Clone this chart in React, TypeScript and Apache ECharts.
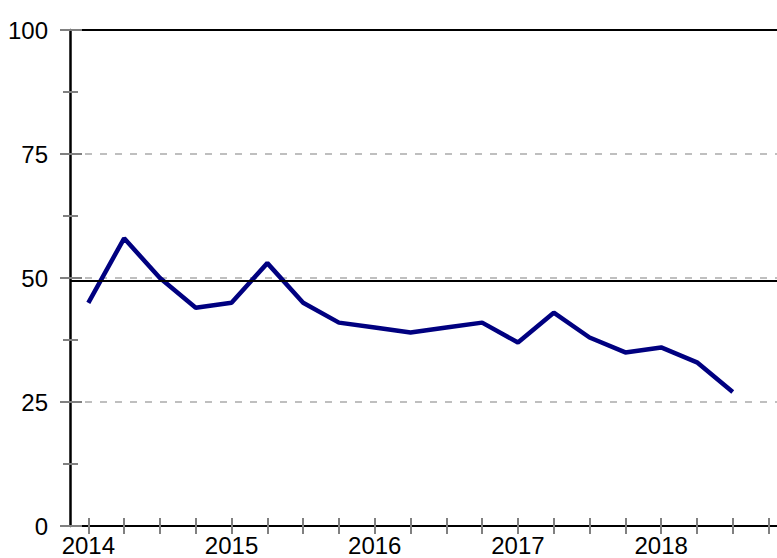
import React, { useEffect, useRef } from "react";
import * as echarts from "echarts";

const quarters = [
  2014, 2014.25, 2014.5, 2014.75,
  2015, 2015.25, 2015.5, 2015.75,
  2016, 2016.25, 2016.5, 2016.75,
  2017, 2017.25, 2017.5, 2017.75,
  2018, 2018.25, 2018.5,
];
const values = [45, 58, 50, 44, 45, 53, 45, 41, 40, 39, 40, 41, 37, 43, 38, 35, 36, 33, 27];
const yearLabels = [2014, 2015, 2016, 2017, 2018];
const xTicks = [
  2014, 2014.25, 2014.5, 2014.75,
  2015, 2015.25, 2015.5, 2015.75,
  2016, 2016.25, 2016.5, 2016.75,
  2017, 2017.25, 2017.5, 2017.75,
  2018, 2018.25, 2018.5, 2018.75,
];
const referenceValue = 49.5;

const X_MIN = 2013.872;
const X_MAX = 2018.809;
const FONT = "'Liberation Sans', Arial, sans-serif";
const TICK_GRAY = "#808080";

export default function App() {
  const ref = useRef<HTMLDivElement>(null);
  useEffect(() => {
    if (!ref.current) return;
    const chart = echarts.init(ref.current, null, { renderer: "svg" });
    const data = quarters.map((q, i) => [q, values[i]]);
    chart.setOption({
      animation: false,
      backgroundColor: "#fff",
      grid: { left: 70, right: 0, top: 30, bottom: 32 },
      xAxis: [
        {
          type: "value",
          position: "bottom",
          min: X_MIN,
          max: X_MAX,
          axisLine: { show: true, lineStyle: { color: "#000", width: 2 } },
          axisTick: { show: true, length: 8, customValues: xTicks, lineStyle: { color: TICK_GRAY, width: 2 } },
          axisLabel: {
            show: true,
            customValues: yearLabels,
            formatter: (v: number) => String(Math.round(v)),
            fontSize: 24,
            color: "#000",
            fontFamily: FONT,
            margin: 7,
          },
          splitLine: { show: false },
        },
        {
          type: "value",
          position: "bottom",
          offset: 0,
          min: X_MIN,
          max: X_MAX,
          axisLine: { show: false },
          axisTick: { show: true, inside: true, length: 8, customValues: xTicks, lineStyle: { color: TICK_GRAY, width: 2 } },
          axisLabel: { show: false },
          splitLine: { show: false },
        },
        {
          type: "value",
          position: "top",
          min: X_MIN,
          max: X_MAX,
          axisLine: { show: true, lineStyle: { color: "#000", width: 2 } },
          axisTick: { show: false },
          axisLabel: { show: false },
          splitLine: { show: false },
        },
      ],
      yAxis: [
        {
          type: "value",
          position: "left",
          min: 0,
          max: 100,
          interval: 25,
          axisLine: { show: true, lineStyle: { color: "#000", width: 2.5 } },
          axisTick: { show: true, length: 10, lineStyle: { color: TICK_GRAY, width: 2 } },
          minorTick: { show: true, splitNumber: 2, length: 7, lineStyle: { color: TICK_GRAY, width: 2 } },
          axisLabel: { show: true, fontSize: 24, color: "#000", fontFamily: FONT, margin: 22 },
          splitLine: { show: true, lineStyle: { color: "#aaaaaa", width: 1.5, type: [7, 8] } },
        },
        {
          type: "value",
          position: "left",
          offset: 0,
          min: 0,
          max: 100,
          interval: 25,
          axisLine: { show: false },
          axisTick: { show: true, inside: true, length: 12, lineStyle: { color: TICK_GRAY, width: 2 } },
          minorTick: { show: true, splitNumber: 2, length: 8, lineStyle: { color: TICK_GRAY, width: 2 } },
          axisLabel: { show: false },
          splitLine: { show: false },
        },
      ],
      series: [
        {
          type: "line",
          xAxisIndex: 0,
          yAxisIndex: 0,
          data,
          symbol: "none",
          lineStyle: { color: "#000080", width: 4.5 },
          markLine: {
            silent: true,
            symbol: "none",
            label: { show: false },
            lineStyle: { color: "#000", width: 2, type: "solid" },
            data: [{ yAxis: referenceValue }],
          },
        },
      ],
    });
    return () => chart.dispose();
  }, []);
  return (
    <div
      ref={ref}
      style={{ position: "absolute", left: 0, top: 0, width: 777, height: 558 }}
    />
  );
}
